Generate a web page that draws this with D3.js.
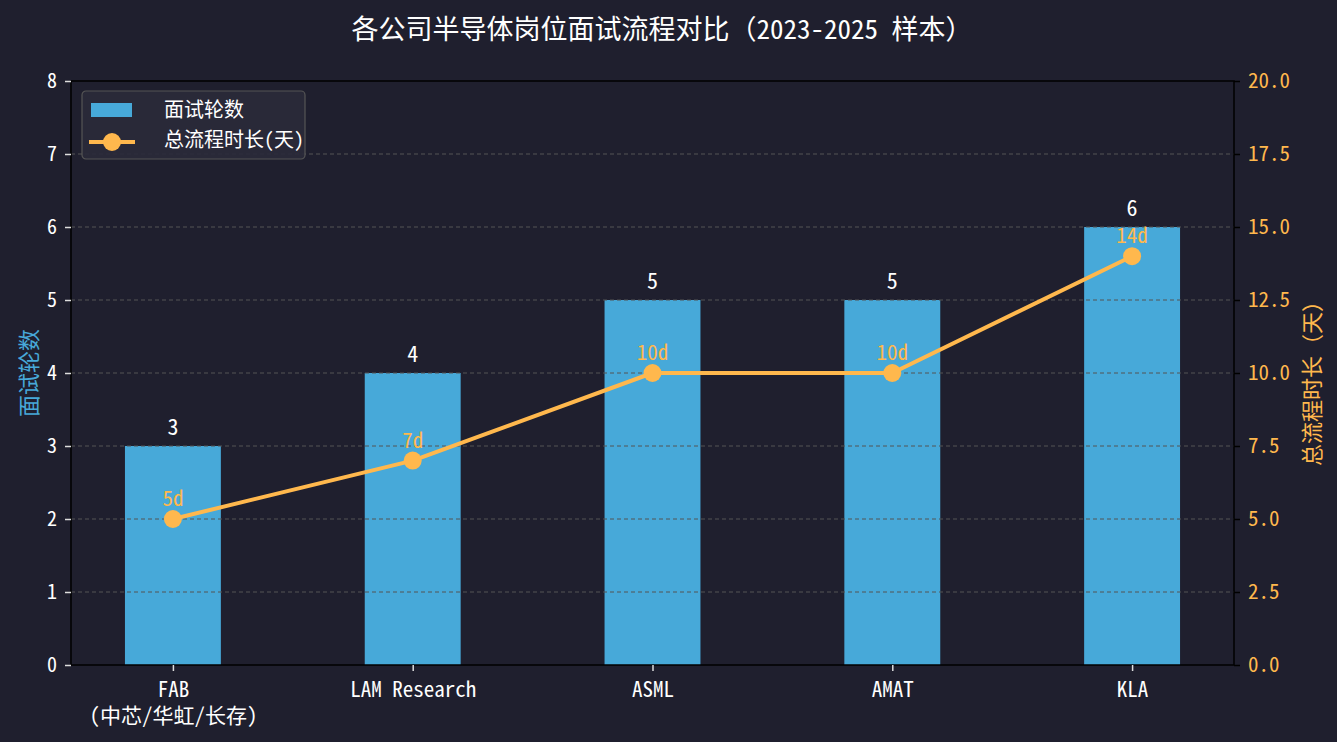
<!DOCTYPE html>
<html>
<head>
<meta charset="utf-8">
<script src="https://cdn.jsdelivr.net/npm/d3@7"></script>
<style>
  html, body { margin: 0; padding: 0; background: #1f1f2e; }
  svg { display: block; font-family: "Noto Sans Mono CJK SC", "Noto Sans CJK SC", "DejaVu Sans Mono", monospace; }
</style>
</head>
<body>
<svg id="plot"></svg>
<script>
var width = 1337;
var height = 742;

var categories = ["FAB\n(中芯/华虹/长存)", "LAM Research", "ASML", "AMAT", "KLA"];
var rounds = [3, 4, 5, 5, 6];
var days = [5, 7, 10, 10, 14];
var leftTicks = [0, 1, 2, 3, 4, 5, 6, 7, 8];
var rightTicks = [0, 2.5, 5, 7.5, 10, 12.5, 15, 17.5, 20];

var barColor = "#47a9d9";
var lineColor = "#ffb84d";

var plot = {left: 71, right: 1234, top: 81, bottom: 665};

var svg = d3.select("#plot")
    .attr("width", width)
    .attr("height", height);

svg.append("rect")
    .attr("width", width)
    .attr("height", height)
    .attr("fill", "#1f1f2e");

var xScale = d3.scaleLinear()
    .domain([-0.425, categories.length - 1 + 0.425])
    .range([plot.left, plot.right]);
var yScale = d3.scaleLinear()
    .domain([0, 8])
    .range([plot.bottom, plot.top]);
var y2Scale = d3.scaleLinear()
    .domain([0, 20])
    .range([plot.bottom, plot.top]);
var barWidth = xScale(0.4) - xScale(0);

// bars
svg.append("g").selectAll("rect")
    .data(rounds)
    .enter()
    .append("rect")
    .attr("x", function (d, i) { return xScale(i) - barWidth / 2; })
    .attr("y", function (d) { return yScale(d); })
    .attr("width", barWidth)
    .attr("height", function (d) { return yScale(0) - yScale(d); })
    .attr("fill", barColor);

// grid on top of bars
svg.append("g").selectAll("line")
    .data(leftTicks.slice(1, -1))
    .enter()
    .append("line")
    .attr("x1", plot.left)
    .attr("x2", plot.right)
    .attr("y1", function (d) { return yScale(d); })
    .attr("y2", function (d) { return yScale(d); })
    .attr("stroke", "#555555")
    .attr("stroke-width", 1)
    .attr("stroke-dasharray", "4,3");

// bar value labels
svg.append("g").selectAll("text")
    .data(rounds)
    .enter()
    .append("text")
    .attr("x", function (d, i) { return xScale(i); })
    .attr("y", function (d) { return yScale(d) - 11; })
    .attr("text-anchor", "middle")
    .attr("fill", "#ffffff")
    .attr("font-size", 22)
    .text(function (d) { return d; });

// line
var line = d3.line()
    .x(function (d, i) { return xScale(i); })
    .y(function (d) { return y2Scale(d); });
svg.append("path")
    .datum(days)
    .attr("d", line)
    .attr("fill", "none")
    .attr("stroke", lineColor)
    .attr("stroke-width", 4)
    .attr("stroke-linejoin", "round");
svg.append("g").selectAll("circle")
    .data(days)
    .enter()
    .append("circle")
    .attr("cx", function (d, i) { return xScale(i); })
    .attr("cy", function (d) { return y2Scale(d); })
    .attr("r", 9)
    .attr("fill", lineColor);
svg.append("g").selectAll("text")
    .data(days)
    .enter()
    .append("text")
    .attr("x", function (d, i) { return xScale(i); })
    .attr("y", function (d) { return y2Scale(d) - 13; })
    .attr("text-anchor", "middle")
    .attr("fill", lineColor)
    .attr("font-size", 21)
    .text(function (d) { return d + "d"; });

// spines
svg.append("rect")
    .attr("x", plot.left)
    .attr("y", plot.top)
    .attr("width", plot.right - plot.left)
    .attr("height", plot.bottom - plot.top)
    .attr("fill", "none")
    .attr("stroke", "#000000")
    .attr("stroke-width", 1.5);

// left axis
var leftAxis = svg.append("g")
    .attr("transform", "translate(" + plot.left + ",0)")
    .call(d3.axisLeft(yScale).tickValues(leftTicks).tickSize(6).tickPadding(8).tickFormat(d3.format("d")))
    .attr("font-family", null)
    .attr("font-size", 20);
leftAxis.select(".domain").remove();
leftAxis.selectAll("line").attr("stroke", "#dddddd").attr("stroke-width", 1.5);
leftAxis.selectAll("text").attr("fill", "#ffffff");

// right axis
var rightAxis = svg.append("g")
    .attr("transform", "translate(" + plot.right + ",0)")
    .call(d3.axisRight(y2Scale).tickValues(rightTicks).tickSize(6).tickPadding(8).tickFormat(d3.format(".1f")))
    .attr("font-family", null)
    .attr("font-size", 21);
rightAxis.select(".domain").remove();
rightAxis.selectAll("line").attr("stroke", "#000000").attr("stroke-width", 1.5);
rightAxis.selectAll("text").attr("fill", lineColor);

// bottom axis
var bottomAxis = svg.append("g")
    .attr("transform", "translate(0," + plot.bottom + ")")
    .call(d3.axisBottom(xScale).tickValues(d3.range(categories.length)).tickSize(6).tickFormat(""))
    .attr("font-family", null)
    .attr("font-size", 21);
bottomAxis.select(".domain").remove();
bottomAxis.selectAll("line").attr("stroke", "#dddddd").attr("stroke-width", 1.5);
bottomAxis.selectAll(".tick").each(function (d) {
    var g = d3.select(this);
    categories[d].split("\n").forEach(function (s, k) {
        g.append("text")
            .attr("fill", "#ffffff")
            .attr("text-anchor", "middle")
            .attr("x", 0)
            .attr("y", 32 + k * 26)
            .text(s);
    });
});

// axis titles
svg.append("text")
    .attr("transform", "translate(27," + ((plot.top + plot.bottom) / 2) + ") rotate(-90)")
    .attr("text-anchor", "middle")
    .attr("dominant-baseline", "central")
    .attr("fill", barColor)
    .attr("font-size", 22)
    .text("面试轮数");
svg.append("text")
    .attr("transform", "translate(1310," + ((plot.top + plot.bottom) / 2 + 5) + ") rotate(-90)")
    .attr("text-anchor", "middle")
    .attr("dominant-baseline", "central")
    .attr("fill", lineColor)
    .attr("font-size", 22)
    .text("总流程时长（天）");

// title
svg.append("text")
    .attr("x", 662)
    .attr("y", 39)
    .attr("text-anchor", "middle")
    .attr("fill", "#ffffff")
    .attr("font-size", 27)
    .text("各公司半导体岗位面试流程对比（2023-2025 样本）");

// legend
var legend = svg.append("g").attr("transform", "translate(82,91)");
legend.append("rect")
    .attr("width", 223)
    .attr("height", 68)
    .attr("rx", 4)
    .attr("fill", "#2a2a3a")
    .attr("fill-opacity", 0.9)
    .attr("stroke", "#555555")
    .attr("stroke-width", 1.2);
legend.append("rect")
    .attr("x", 9)
    .attr("y", 12)
    .attr("width", 41)
    .attr("height", 14)
    .attr("fill", barColor);
legend.append("line")
    .attr("x1", 7).attr("x2", 53)
    .attr("y1", 51).attr("y2", 51)
    .attr("stroke", lineColor)
    .attr("stroke-width", 4);
legend.append("circle")
    .attr("cx", 30).attr("cy", 51).attr("r", 9)
    .attr("fill", lineColor);
legend.append("text")
    .attr("x", 82).attr("y", 26)
    .attr("fill", "#ffffff").attr("font-size", 20)
    .text("面试轮数");
legend.append("text")
    .attr("x", 82).attr("y", 56)
    .attr("fill", "#ffffff").attr("font-size", 20)
    .text("总流程时长(天)");
</script>
</body>
</html>
